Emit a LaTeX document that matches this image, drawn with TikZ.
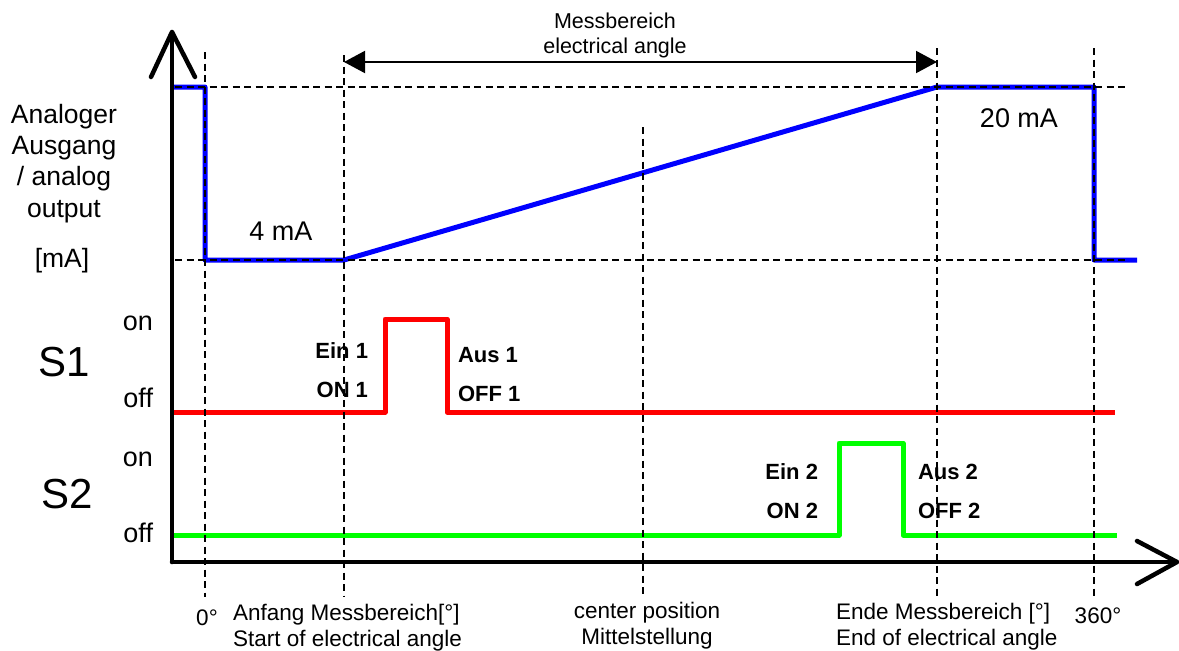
\documentclass[tikz,border=0pt]{standalone}
\usepackage{fontspec}
\setmainfont{Liberation Sans}
\usetikzlibrary{arrows.meta}
\newcommand\myfs[2]{\fontsize{#1}{#2}\selectfont}
\begin{document}
\begin{tikzpicture}[x=1pt,y=-1pt,
  axis/.style={line width=4.5pt, line cap=round, line join=round},
  guide/.style={line width=1.5pt, dash pattern=on 7pt off 4.5pt},
  sig/.style={line width=5pt, line join=round},
  txt/.style={inner sep=0pt, outer sep=0pt},
  ylab/.style={txt, font=\myfs{26.5}{31.3}},
  lvl/.style={txt, font=\myfs{27}{30}},
  big/.style={txt, font=\myfs{42}{46}},
  val/.style={txt, font=\myfs{27}{30}},
  sw/.style={txt, font=\myfs{22}{39}\bfseries},
  bot/.style={txt, font=\myfs{22.5}{26}},
  topl/.style={txt, font=\myfs{21.5}{25}},
  dim/.style={line width=2pt, {Triangle[length=21pt,width=22pt]}-{Triangle[length=21pt,width=22pt]}}
]
\useasboundingbox (0,0) rectangle (1179,651);

% key coordinates
\coordinate (O) at (172,562);
\coordinate (ytip) at (172,32);
\coordinate (xtip) at (1177,562);
\coordinate (aS) at (344,62);   % start of range
\coordinate (aE) at (937,62);   % end of range

% signals
\draw[sig, blue] (172,87) -- (205,87) -- (205,260) -- (344,260) -- (937,87)
  -- (1094,87) -- (1094,260) -- (1137,260);
\draw[sig, red] (172,412) -- (385,412) -- (385,319) -- (447,319) -- (447,412) -- (1115,412);
\draw[sig, green] (172,535) -- (839,535) -- (839,443) -- (903,443) -- (903,535) -- (1117,535);

% guide lines
\draw[guide] (175,87) -- (1125,87);
\draw[guide] (175,260) -- (1125,260);
\draw[guide] (205,52) -- (205,597);
\draw[guide] (344,55) -- (344,597);
\draw[guide] (643,127) -- (643,595);
\draw[guide] (937,48) -- (937,597);
\draw[guide] (1094,48) -- (1094,597);

% axes
\draw[axis] (O) -- (ytip);
\draw[axis] (151,77) -- (ytip) -- (195,77);
\draw[axis] (O) -- (xtip);
\draw[axis] (1137,541) -- (xtip) -- (1137,584);

% dimension arrow
\draw[dim] (aS) -- (aE);
\node[topl, align=center, anchor=base] (mb) at (615,53) {Messbereich\\electrical angle};

% left labels
\node[ylab, align=center, anchor=base] (ylabel) at (64,217) {Analoger\\Ausgang\\/ analog\\output};
\node[ylab, anchor=base] (unit) at (62,267) {[mA]};
\node[big, anchor=base] (s1) at (64,376) {S1};
\node[big, anchor=base] (s2) at (67,508) {S2};
\node[lvl, anchor=base east] (on1) at (153,330) {on};
\node[lvl, anchor=base east] (off1) at (153,407) {off};
\node[lvl, anchor=base east] (on2) at (153,466) {on};
\node[lvl, anchor=base east] (off2) at (153,542) {off};

% values
\node[val, anchor=base] (v4) at (281,240) {4 mA};
\node[val, anchor=base] (v20) at (1019,127) {20 mA};

% switch points
\node[sw, align=right, anchor=base east] (ein1) at (368,397) {Ein 1\\ON 1};
\node[sw, align=left, anchor=base west] (aus1) at (458,401) {Aus 1\\OFF 1};
\node[sw, align=right, anchor=base east] (ein2) at (818,518) {Ein 2\\ON 2};
\node[sw, align=left, anchor=base west] (aus2) at (918,518) {Aus 2\\OFF 2};

% bottom labels
\node[bot, anchor=base] (zero) at (207,625) {0°};
\node[bot, align=left, anchor=base west] (start) at (233,646) {Anfang Messbereich[°]\\Start of electrical angle};
\node[bot, align=center, anchor=base] (center) at (647,644) {center position\\Mittelstellung};
\node[bot, align=left, anchor=base west] (end) at (836,645) {Ende Messbereich [°]\\End of electrical angle};
\node[bot, anchor=base] (full) at (1098,623) {360°};
\end{tikzpicture}
\end{document}
